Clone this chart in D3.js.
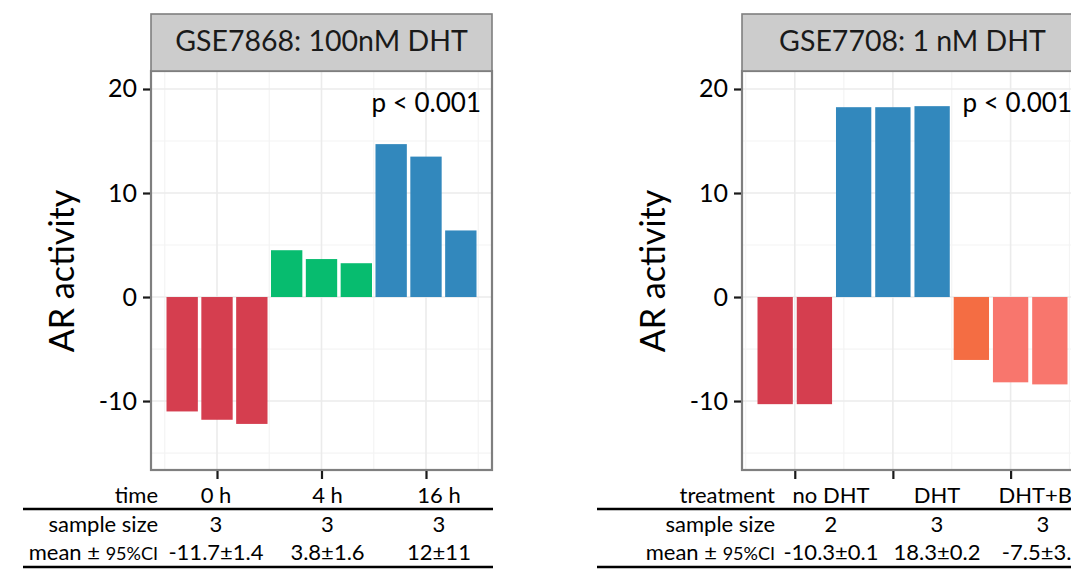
<!DOCTYPE html>
<html>
<head>
<meta charset="utf-8">
<script src="https://cdn.jsdelivr.net/npm/d3@7"></script>
<style>
  body { margin: 0; background: #fff; }
  svg { display: block; font-family: Lato, "Open Sans", sans-serif; }
</style>
</head>
<body>
<svg id="chart" width="1071" height="575"></svg>
<script>
// Data
const leftTitle = "GSE7868: 100nM DHT"
const leftHeader = "time"
const leftGroups = ["0 h", "4 h", "16 h"]
const leftValues = [[-11.0, -11.8, -12.2], [4.5, 3.65, 3.25], [14.7, 13.5, 6.4]]
const leftKeys = [["0 h", "0 h", "0 h"], ["4 h", "4 h", "4 h"], ["16 h", "16 h", "16 h"]]
const leftN = ["3", "3", "3"]
const leftMean = ["-11.7±1.4", "3.8±1.6", "12±11"]

const rightTitle = "GSE7708: 1 nM DHT"
const rightHeader = "treatment"
const rightGroups = ["no DHT", "DHT", "DHT+Bic"]
const rightValues = [[-10.3, -10.3], [18.25, 18.25, 18.35], [-6.05, -8.2, -8.4]]
const rightKeys = [["no DHT", "no DHT"], ["DHT", "DHT", "DHT"], ["DHT+Bic a", "DHT+Bic b", "DHT+Bic b"]]
const rightN = ["2", "3", "3"]
const rightMean = ["-10.3±0.1", "18.3±0.2", "-7.5±3.2"]

const pLabel = "p < 0.001"
const yTicks = [-10, 0, 10, 20]
const yLabel = "AR activity"

const colorKeys = ["0 h", "4 h", "16 h", "no DHT", "DHT", "DHT+Bic a", "DHT+Bic b"]
const colorValues = ["#D53E4F", "#07BC6F", "#3288BD", "#D53E4F", "#3288BD", "#F46D43", "#F8766D"]
const color = d3.scaleOrdinal(colorKeys, colorValues)

// Layout
const PANEL_TOP = 71
const PANEL_BOTTOM = 470
const STRIP_TOP = 14

const yScale = d3.scaleLinear([-16.63, 21.73], [PANEL_BOTTOM, PANEL_TOP])

const panels = [
  { x0: 151, x1: 492, title: leftTitle, header: leftHeader, groups: leftGroups, values: leftValues, keys: leftKeys,
    n: leftN, mean: leftMean, headerX: 158, colX: 216, colStep: 111.5, lineX0: 23, lineX1: 493 },
  { x0: 742, x1: 1083, title: rightTitle, header: rightHeader, groups: rightGroups, values: rightValues, keys: rightKeys,
    n: rightN, mean: rightMean, headerX: 775, colX: 831, colStep: 106, lineX0: 597, lineX1: 1090 }
]

const svg = d3.select("#chart")

panels.forEach(p => {
  // flatten bars
  const bars = []
  const centers = []
  p.values.forEach((vals, g) => {
    const start = bars.length + 1
    vals.forEach((v, j) => bars.push({ idx: bars.length + 1, value: v, key: p.keys[g][j] }))
    centers.push((start + bars.length) / 2)
  })
  const n = bars.length
  const lo = 0.55, hi = n + 0.45, pad = 0.05 * (hi - lo)
  const x = d3.scaleLinear([lo - pad, hi + pad], [p.x0, p.x1])

  // minor breaks like ggplot
  const ext = [centers[0] - (centers[1] - centers[0]), ...centers,
    centers[centers.length - 1] + (centers[centers.length - 1] - centers[centers.length - 2])]
  const xMinor = d3.range(ext.length - 1).map(i => (ext[i] + ext[i + 1]) / 2)
  const yMinor = d3.range(-15, 25, 10)

  const g = svg.append("g")

  g.append("rect")
    .attr("x", p.x0).attr("y", PANEL_TOP)
    .attr("width", p.x1 - p.x0).attr("height", PANEL_BOTTOM - PANEL_TOP)
    .attr("fill", "#fff")

  // grid
  const grid = g.append("g")
  grid.selectAll(".ymin").data(yMinor).join("line")
    .attr("x1", p.x0).attr("x2", p.x1)
    .attr("y1", d => yScale(d)).attr("y2", d => yScale(d))
    .attr("stroke", "#F4F4F4").attr("stroke-width", 1.2)
  grid.selectAll(".xmin").data(xMinor).join("line")
    .attr("y1", PANEL_TOP).attr("y2", PANEL_BOTTOM)
    .attr("x1", d => x(d)).attr("x2", d => x(d))
    .attr("stroke", "#F4F4F4").attr("stroke-width", 1.2)
  grid.selectAll(".ymaj").data(yTicks).join("line")
    .attr("x1", p.x0).attr("x2", p.x1)
    .attr("y1", d => yScale(d)).attr("y2", d => yScale(d))
    .attr("stroke", "#EBEBEB").attr("stroke-width", 1.6)
  grid.selectAll(".xmaj").data(centers).join("line")
    .attr("y1", PANEL_TOP).attr("y2", PANEL_BOTTOM)
    .attr("x1", d => x(d)).attr("x2", d => x(d))
    .attr("stroke", "#EBEBEB").attr("stroke-width", 1.6)

  // bars
  const bw = x(1.45) - x(0.55)
  g.append("g").selectAll("rect").data(bars).join("rect")
    .attr("x", d => x(d.idx) - bw / 2)
    .attr("width", bw)
    .attr("y", d => yScale(Math.max(0, d.value)))
    .attr("height", d => Math.abs(yScale(d.value) - yScale(0)))
    .attr("fill", d => color(d.key))

  g.append("text")
    .attr("x", p.x1 - 11).attr("y", 112)
    .attr("text-anchor", "end")
    .attr("font-size", 26)
    .attr("fill", "#000")
    .text(pLabel)

  // panel border
  g.append("rect")
    .attr("x", p.x0).attr("y", PANEL_TOP)
    .attr("width", p.x1 - p.x0).attr("height", PANEL_BOTTOM - PANEL_TOP)
    .attr("fill", "none").attr("stroke", "#7F7F7F").attr("stroke-width", 2.2)

  // strip
  g.append("rect")
    .attr("x", p.x0).attr("y", STRIP_TOP)
    .attr("width", p.x1 - p.x0).attr("height", PANEL_TOP - STRIP_TOP)
    .attr("fill", "#CCCCCC").attr("stroke", "#7F7F7F").attr("stroke-width", 1.6)
  g.append("text")
    .attr("x", (p.x0 + p.x1) / 2).attr("y", 51)
    .attr("text-anchor", "middle")
    .attr("font-size", 28.5)
    .attr("fill", "#1A1A1A")
    .text(p.title)

  // y axis
  g.append("g")
    .attr("transform", `translate(${p.x0 - 1},0)`)
    .call(d3.axisLeft(yScale).tickValues(yTicks).tickSize(7).tickPadding(6).tickFormat(d => String(d)))
    .call(a => a.select(".domain").remove())
    .call(a => a.selectAll(".tick line").attr("stroke", "#1A1A1A").attr("stroke-width", 2.2))
    .call(a => a.selectAll(".tick text").attr("font-size", 25).attr("fill", "#000")
      .attr("font-family", "Lato, sans-serif"))

  // x axis ticks (labels are in the table)
  g.append("g")
    .attr("transform", `translate(0,${PANEL_BOTTOM + 1})`)
    .call(d3.axisBottom(x).tickValues(centers).tickSize(8).tickFormat(""))
    .call(a => a.select(".domain").remove())
    .call(a => a.selectAll(".tick line").attr("stroke", "#1A1A1A").attr("stroke-width", 2.2))

  // y title
  g.append("text")
    .attr("transform", `translate(${p.x0 - 77},271) rotate(-90)`)
    .attr("text-anchor", "middle")
    .attr("font-size", 34)
    .attr("fill", "#000")
    .text(yLabel)

  // table
  const t = g.append("g").attr("font-size", 22).attr("fill", "#000")
  const rows = [
    { y: 503, head: p.header, cells: p.groups },
    { y: 532, head: "sample size", cells: p.n },
    { y: 560, head: null, cells: p.mean }
  ]
  rows.forEach(r => {
    const h = t.append("text").attr("x", p.headerX).attr("y", r.y).attr("text-anchor", "end")
    if (r.head) h.text(r.head)
    else {
      h.append("tspan").text("mean ± ")
      h.append("tspan").attr("font-size", 18).text("95%CI")
    }
    t.selectAll(null).data(r.cells).join("text")
      .attr("x", (d, i) => p.colX + i * p.colStep)
      .attr("y", r.y)
      .attr("text-anchor", "middle")
      .text(d => d)
  })
  t.selectAll("line").data([509, 567]).join("line")
    .attr("x1", p.lineX0).attr("x2", p.lineX1)
    .attr("y1", d => d).attr("y2", d => d)
    .attr("stroke", "#000").attr("stroke-width", 2.5)
})
</script>
</body>
</html>
